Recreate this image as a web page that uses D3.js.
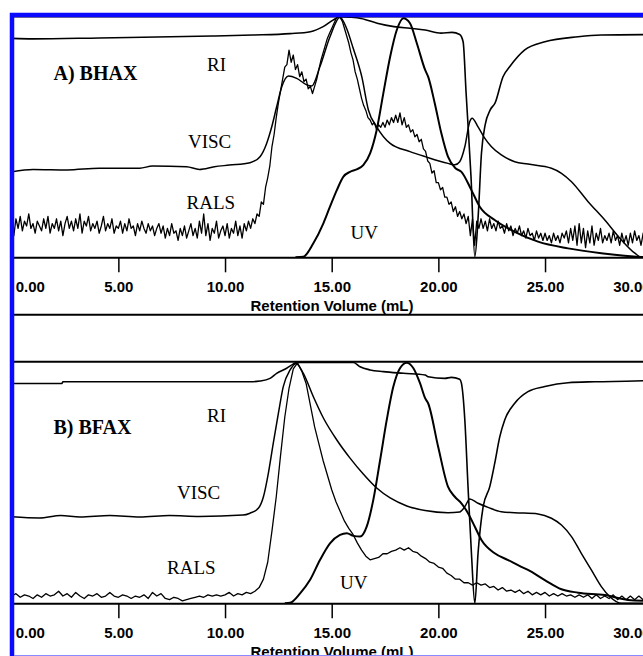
<!DOCTYPE html>
<html>
<head>
<meta charset="utf-8">
<script src="https://cdn.jsdelivr.net/npm/d3@7/dist/d3.min.js"></script>
<style>
    html, body { margin: 0; padding: 0; background: #fff; }
    svg { display: block; }
    .trace { fill: none; stroke: #000; stroke-linejoin: round; }
    .lbl { font-family: "Liberation Serif", "Times New Roman", serif; font-size: 19px; fill: #000; }
    .lbl.title { font-weight: bold; font-size: 20px; }
    .axis text { font-family: "Liberation Sans", Arial, sans-serif; font-weight: bold; font-size: 15px; fill: #000; }
    .axis .domain { stroke: #000; stroke-width: 2; }
    .axis .tick line { stroke: #000; stroke-width: 1.5; }
    .axis-title { font-family: "Liberation Sans", Arial, sans-serif; font-weight: bold; font-size: 15px; fill: #000; }
</style>
</head>
<body>
<svg id="chart" width="643" height="656"></svg>
<script>
// Retention volume ticks (mL)
const volTicks = [0, 5, 10, 15, 20, 25, 30];
const axisTitle = 'Retention Volume (mL)';

// Panel A (BHAX) -- [volume mL, signal % of full scale]
const riA = [[0, 90.9], [1.0, 90.7], [4.1, 91.1], [9.4, 91.9], [11.3, 92.3], [13.05, 92.9], [14.0, 93.7],
    [14.6, 95.8], [15.06, 98.5], [15.4, 99.9], [15.86, 99.7], [16.38, 99.2], [17.13, 97.2], [17.92, 95.8],
    [18.67, 95.1], [19.38, 94.4], [20.13, 93.1], [20.64, 93.4], [21.0, 92.5], [21.16, 89.5], [21.3, 68.2],
    [21.53, 33.5], [21.71, 0.3], [21.87, 17.6], [22.02, 43.2], [22.19, 54.9], [22.43, 61.2], [22.66, 64.1],
    [23.03, 75.0], [23.35, 79.2], [24.05, 86.1], [24.99, 89.5], [26.55, 91.6], [27.63, 92.3], [30, 92.5]];

const viscA = [[0, 35.5], [1.0, 36.5], [2.6, 36.3], [4.1, 37.0], [6.0, 37.0], [6.6, 37.9], [8.2, 37.6],
    [8.8, 36.5], [9.5, 37.6], [10.2, 38.3], [11.17, 39.3], [11.64, 41.8], [11.95, 47.3], [12.19, 54.2],
    [12.42, 62.5], [12.66, 70.8], [12.97, 75.3], [13.36, 74.3], [13.83, 71.6], [14.06, 71.1], [14.45, 79.2],
    [14.92, 91.6], [15.39, 99.7], [15.7, 95.0], [16.0, 87.0], [16.41, 75.0], [16.72, 61.2], [17.11, 54.2],
    [17.74, 47.3], [18.67, 43.9], [19.38, 41.8], [20.45, 39.0], [20.77, 38.4], [21.0, 39.7], [21.24, 45.9],
    [21.47, 56.3], [21.58, 57.7], [21.86, 54.2], [22.18, 49.4], [22.49, 45.9], [22.95, 42.5], [23.58, 39.7],
    [24.2, 38.7], [25.3, 37.0], [25.77, 34.9], [26.24, 31.4], [27.02, 23.1], [27.8, 15.5], [28.58, 7.2],
    [29.21, 1.7], [29.52, 0], [30, 0]];

const uvA = [[13.3, 0], [13.67, 0.2], [14.14, 5.8], [14.61, 14.1], [14.92, 21.0], [15.24, 27.9], [15.55, 33.5],
    [15.86, 35.5], [16.17, 36.5], [16.48, 38.3], [16.8, 43.2], [17.11, 52.9], [17.42, 68.1], [17.74, 83.3],
    [18.05, 94.4], [18.36, 99.3], [18.67, 97.2], [18.99, 88.9], [19.38, 77.8], [19.52, 75.0], [19.83, 64.0],
    [20.14, 51.5], [20.45, 41.8], [20.8, 37.0], [21.08, 35.5], [21.55, 27.9], [21.94, 21.0], [22.64, 15.5],
    [23.58, 10.6], [24.67, 6.5], [26.08, 3.7], [27.64, 1.7], [29.52, 0.1], [30, 0]];

// RALS sampled every 0.1 mL from 0 mL
const ralsAStep = 0.1;
const ralsA = [
    14, 9, 16, 12, 17, 11, 15, 13, 18, 12,   14, 10, 15, 13, 11, 16, 12, 17, 10, 14,
    12, 16, 11, 15, 9, 14, 17, 12, 15, 11,   16, 12, 18, 10, 15, 13, 17, 11, 14, 12,
    15, 10, 13, 17, 11, 14, 12, 16, 10, 13,  12, 15, 10, 14, 11, 16, 12, 13, 9, 14,
    11, 15, 12, 10, 14, 11, 13, 9, 12, 14,   10, 13, 8, 12, 9, 14, 10, 11, 7, 12,
    9, 13, 8, 11, 14, 9, 12, 8, 15, 10,      18, 9, 14, 7, 12, 10, 15, 8, 11, 13,
    9, 14, 8, 12, 10, 15, 9, 13, 8, 14,      11, 15, 12, 16, 14, 18, 17, 23, 22, 29,
    33, 38, 46, 51, 58, 64, 69, 74, 79, 80,  86, 81, 84, 78, 80, 75, 77, 73, 74, 70,
    71, 68, 71, 74, 78, 82, 85, 88, 91, 93,  95, 97, 99, 100, 99.5, 98, 95, 92, 89, 85,
    82, 77, 74, 70, 66, 63, 61, 58, 57, 55,  56, 53, 55, 54, 56, 54, 57, 55, 58, 56,
    59, 56, 60, 55, 58, 54, 55, 52, 53, 50,  51, 48, 49, 45, 44, 40, 39, 35, 36, 31,
    31, 28, 29, 25, 25, 22, 23, 19, 21, 17,  19, 16, 18, 14, 17, 9, 16, 5, 15, 12,
    16, 12, 15, 11, 16, 12, 14, 11, 15, 12,  13, 10, 14, 11, 13, 9, 12, 10, 13, 9,
    11, 8, 12, 9, 10, 7, 11, 8, 10, 7,       10, 7, 9, 6, 10, 7, 9, 6, 10, 8,
    11, 6, 12, 7, 13, 5, 14, 6, 12, 4,       11, 6, 13, 5, 10, 7, 12, 6, 9, 7,
    10, 6, 11, 7, 9, 5, 10, 6, 9, 5,         10, 6, 11, 7, 9, 5, 10, 6, 8, 5];

// Panel B (BFAX)
const riB = [[0, 91.0], [2.36, 91.0], [2.4, 91.7], [11.17, 91.7], [11.64, 92.0], [12.11, 93.1], [12.42, 95.2],
    [12.89, 97.3], [13.19, 99.0], [13.36, 99.7], [16.02, 99.7], [16.33, 97.9], [16.8, 96.6], [17.42, 95.9],
    [18.36, 95.2], [19.38, 94.5], [19.52, 93.8], [20.3, 93.1], [20.61, 93.5], [21.0, 92.7], [21.08, 91.1],
    [21.24, 75.9], [21.39, 48.3], [21.55, 20.7], [21.71, 0], [21.86, 20.7], [22.1, 40.0], [22.41, 48.3],
    [22.64, 57.9], [22.88, 69.0], [23.11, 75.9], [23.58, 82.8], [24.2, 87.6], [24.99, 89.7], [26.08, 91.3],
    [27.33, 91.7], [29.21, 92.0], [30, 92.3]];

const viscB = [[0, 35.8], [1.3, 35.3], [2.3, 36.3], [3.2, 35.7], [4.6, 36.3], [6.0, 35.7], [7.4, 36.3],
    [8.8, 35.9], [10.84, 36.5], [11.17, 37.3], [11.56, 39.3], [11.8, 44.1], [12.03, 53.8], [12.26, 66.2],
    [12.5, 78.6], [12.73, 89.7], [13.05, 96.6], [13.33, 99.3], [13.67, 95.2], [14.14, 85.5], [14.61, 76.7],
    [15.24, 67.6], [15.86, 60.1], [16.48, 53.5], [17.11, 47.7], [17.74, 43.6], [18.52, 40.3], [19.38, 38.4],
    [20.45, 37.5], [21.0, 37.8], [21.24, 40.0], [21.47, 43.2], [21.86, 41.4], [22.33, 39.7], [22.95, 37.9],
    [23.58, 37.5], [24.67, 37.0], [25.3, 35.2], [25.77, 32.4], [26.24, 27.6], [26.7, 20.7], [27.17, 13.8],
    [27.64, 6.9], [28.04, 2.7], [28.58, 0], [30, 0]];

const uvB = [[12.8, 0], [13.05, 0.2], [13.52, 4.1], [13.98, 9.6], [14.45, 17.9], [14.92, 24.8], [15.39, 28.3],
    [15.71, 29.0], [16.02, 27.9], [16.33, 27.6], [16.64, 31.7], [16.95, 42.8], [17.27, 59.3], [17.58, 75.9],
    [17.89, 89.7], [18.2, 97.3], [18.52, 99.6], [18.83, 97.3], [19.14, 91.1], [19.38, 84.9], [19.52, 82.8],
    [19.99, 64.8], [20.45, 48.3], [20.77, 44.1], [21.08, 41.4], [21.39, 37.3], [21.71, 31.7], [22.02, 26.2],
    [22.64, 20.7], [23.27, 17.9], [23.89, 15.1], [24.2, 13.8], [24.99, 9.6], [25.77, 5.8], [26.55, 4.4],
    [27.8, 3.4], [28.89, 1.4], [30, 1.0]];

// RALS sampled every 0.2 mL from 0 mL
const ralsBStep = 0.2;
const ralsB = [
    3, 4, 2.5, 3.5, 3, 2, 3.5, 2.5, 4, 3,            3.5, 5, 3, 4, 2.5, 4.5, 3, 2, 3.5, 3,
    4, 2.5, 3, 4.5, 3, 2.5, 3.5, 3, 2, 3,            2.5, 3.5, 2, 4.5, 3, 4, 2, 1.5, 2.5, 2,
    1, 1.5, 2, 2.5, 3, 2.5, 3.5, 3, 3.5, 3,          3.5, 4.5, 3, 4, 3.5, 4.5, 4, 5, 6.5, 10,
    17, 30, 44, 61, 77, 89, 97, 99.5, 96, 91,        82, 73, 66, 59, 53, 47, 42, 38, 34, 31,
    28.5, 25, 22, 19.5, 18, 18.5, 19, 20.5, 20.5, 21.5,  22, 23, 22, 23, 21.5, 21, 19.5, 18.5, 17, 16.5,
    15, 14.5, 12.5, 11.5, 10, 10, 8.5, 8.5, 7.5, 8.5, 7.5, 8, 6.5, 7, 5.5, 6.5, 5, 5.5, 4.5, 5.5,
    4, 5, 3.5, 4.5, 3.5, 4.5, 3, 4, 3, 4,            3, 3.5, 2.5, 3.5, 2.5, 3.5, 2, 3.5, 2, 3,
    2, 3.5, 1.5, 3, 1.5, 3, 1.5, 3, 1.5, 2.5];

(function() {
    'use strict';

    const svg = d3.select('#chart');
    const W = 643, H = 656;

    const x = d3.scaleLinear().domain([0, 30]).range([11.7, 651.7]);

    const panels = [
        {
            id: 'a', name: 'A) BHAX', top: 16.5, base: 257.3,
            ri: riA, visc: viscA, uv: uvA, rals: ralsA, ralsStep: ralsAStep,
            nameAt: [53.5, 80],
            labels: [['RI', 207, 71], ['VISC', 188, 147.5], ['RALS', 186.5, 208.5], ['UV', 350.5, 238.5]]
        },
        {
            id: 'b', name: 'B) BFAX', top: 361.7, base: 603.3,
            ri: riB, visc: viscB, uv: uvB, rals: ralsB, ralsStep: ralsBStep,
            nameAt: [53.5, 433.5],
            labels: [['RI', 207, 421.7], ['VISC', 177, 498.5], ['RALS', 167, 573.5], ['UV', 340, 588.5]]
        }
    ];

    panels.forEach(drawPanel);
    drawBorder();

    function drawPanel(p) {
        const y = d3.scaleLinear().domain([0, 100]).range([p.base, p.top]);
        const g = svg.append('g').attr('class', 'panel-' + p.id);

        g.append('clipPath').attr('id', 'clip-' + p.id)
            .append('rect')
            .attr('x', 12).attr('y', p.top - 1)
            .attr('width', W - 12).attr('height', p.base - p.top + 1);

        const smooth = d3.line().x(d => x(d[0])).y(d => y(d[1])).curve(d3.curveMonotoneX);
        const raw = d3.line().x((d, i) => x(i * p.ralsStep)).y(d => y(d));

        const traces = g.append('g').attr('clip-path', `url(#clip-${p.id})`);
        traces.append('path').attr('class', 'trace').attr('d', raw(p.rals)).attr('stroke-width', 1.3);
        traces.append('path').attr('class', 'trace').attr('d', smooth(p.visc)).attr('stroke-width', 1.5);
        traces.append('path').attr('class', 'trace').attr('d', smooth(p.ri)).attr('stroke-width', 1.6);
        traces.append('path').attr('class', 'trace').attr('d', smooth(p.uv)).attr('stroke-width', 2);

        // frame line along the top of the plot
        g.append('line')
            .attr('x1', 14).attr('x2', W)
            .attr('y1', p.top).attr('y2', p.top)
            .attr('stroke', '#000').attr('stroke-width', 2);

        // x axis
        const axis = d3.axisBottom(x)
            .tickValues(volTicks)
            .tickSize(15)
            .tickSizeOuter(0)
            .tickFormat(d3.format('.2f'));

        const ax = g.append('g')
            .attr('class', 'axis')
            .attr('transform', `translate(0,${p.base})`)
            .call(axis);

        ax.selectAll('.tick text').attr('y', 24);
        // first / last labels are kept inside the frame
        ax.selectAll('.tick text').filter(d => d === volTicks[0])
            .attr('text-anchor', 'start').attr('x', 3.5);
        ax.selectAll('.tick text').filter(d => d === volTicks[volTicks.length - 1])
            .attr('text-anchor', 'end').attr('x', -1.5);

        g.append('text')
            .attr('class', 'axis-title')
            .attr('x', 332).attr('y', p.base + 53.7)
            .attr('text-anchor', 'middle')
            .text(axisTitle);

        // separator under the axis title
        g.append('line')
            .attr('x1', 14).attr('x2', W)
            .attr('y1', p.base + 57.4).attr('y2', p.base + 57.4)
            .attr('stroke', '#000').attr('stroke-width', 2);

        // sample name + detector labels
        g.append('text').attr('class', 'lbl title')
            .attr('x', p.nameAt[0]).attr('y', p.nameAt[1])
            .text(p.name);

        g.selectAll('text.det')
            .data(p.labels)
            .enter().append('text')
            .attr('class', 'lbl det')
            .attr('x', d => d[1]).attr('y', d => d[2])
            .text(d => d[0]);
    }

    function drawBorder() {
        svg.append('path')
            .attr('d', `M12,${H + 4} V15 H${W + 4}`)
            .attr('fill', 'none')
            .attr('stroke', '#0a0aff')
            .attr('stroke-width', 4.5);

        svg.append('line')
            .attr('x1', 14).attr('x2', W)
            .attr('y1', 655.5).attr('y2', 655.5)
            .attr('stroke', '#8a8aff').attr('stroke-width', 1.2);
    }
})();
</script>
</body>
</html>
